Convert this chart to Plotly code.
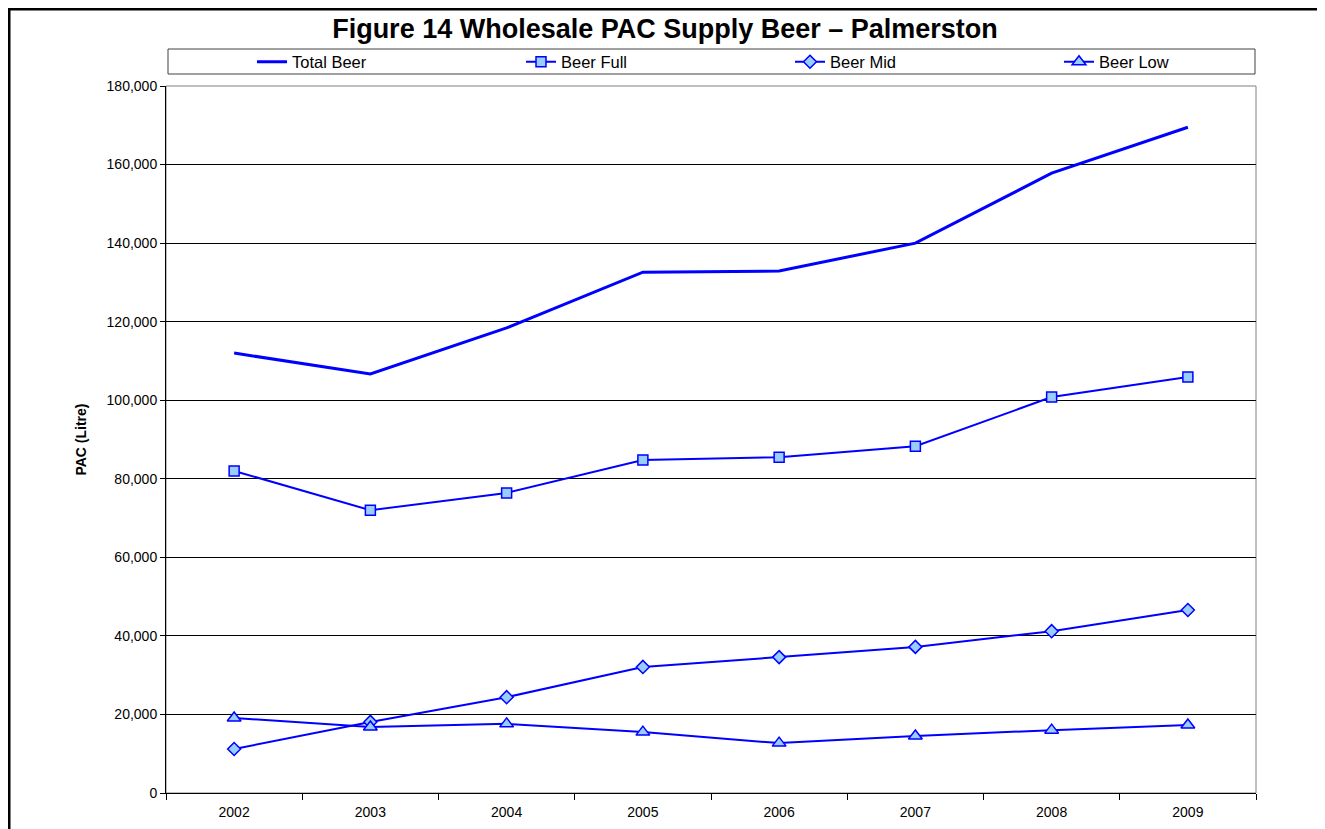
import plotly.graph_objects as go

years = ["2002", "2003", "2004", "2005", "2006", "2007", "2008", "2009"]
total_beer = [112000, 106700, 118400, 132600, 132900, 140000, 157800, 169500]
beer_full = [82000, 72000, 76400, 84800, 85500, 88300, 100800, 105900]
beer_mid = [11200, 18100, 24400, 32100, 34600, 37200, 41200, 46600]
beer_low = [19100, 16800, 17600, 15500, 12700, 14500, 16000, 17300]

BLUE = "#0000FF"
FILL = "#99CCFF"

# The page has an 8px body margin; work in a figure shifted by that.
OFF = 8
W, H = 1325 - OFF, 829 - OFF
PL, PR, PT, PB = 166 - OFF, 1256 - OFF, 86 - OFF, 793 - OFF
PW, PH = PR - PL, PB - PT


def px(x):
    return (x - OFF - PL) / PW


def py(y):
    return (PB - (y - OFF)) / PH


fig = go.Figure()
fig.add_trace(go.Scatter(x=years, y=total_beer, name="Total Beer", mode="lines",
                         line=dict(color=BLUE, width=3)))
fig.add_trace(go.Scatter(x=years, y=beer_full, name="Beer Full", mode="lines+markers",
                         line=dict(color=BLUE, width=2),
                         marker=dict(symbol="square", size=10, color=FILL, line=dict(color=BLUE, width=1.5))))
fig.add_trace(go.Scatter(x=years, y=beer_mid, name="Beer Mid", mode="lines+markers",
                         line=dict(color=BLUE, width=2),
                         marker=dict(symbol="diamond", size=10, color=FILL, line=dict(color=BLUE, width=1.5))))
fig.add_trace(go.Scatter(x=years, y=beer_low, name="Beer Low", mode="lines+markers",
                         line=dict(color=BLUE, width=2),
                         marker=dict(symbol="triangle-up", size=12, color=FILL, line=dict(color=BLUE, width=1.5))))

fig.update_layout(
    width=W, height=H,
    margin=dict(l=PL, r=W - PR, t=PT, b=H - PB, autoexpand=False),
    paper_bgcolor="white", plot_bgcolor="white",
    font=dict(family="Liberation Sans, Arial, sans-serif", color="black", size=14),
    title=dict(text="<b>Figure 14 Wholesale PAC Supply Beer \u2013 Palmerston</b>",
               x=(665 - OFF) / W, xanchor="center", y=1 - (29 - OFF) / H, yanchor="middle",
               font=dict(size=27, color="black")),
    showlegend=True,
    legend=dict(orientation="h", x=px(252), xanchor="left",
                y=py(62), yanchor="middle",
                font=dict(size=16.5), bgcolor="rgba(0,0,0,0)",
                entrywidth=224, entrywidthmode="pixels",
                itemwidth=30, tracegroupgap=0),
    xaxis=dict(type="category", tickson="boundaries", ticks="outside", ticklen=6,
               tickcolor="black", showline=True, linecolor="black", linewidth=1,
               showgrid=False, range=[-0.5, 7.5], tickfont=dict(size=14),
               ticklabelstandoff=6),
    yaxis=dict(range=[0, 180000], dtick=20000, tickformat=",", ticks="outside", ticklen=5,
               tickcolor="black", showline=True, linecolor="black", linewidth=1,
               showgrid=True, gridcolor="black", gridwidth=1, zeroline=False,
               tickfont=dict(size=14),
               title=dict(text="<b>PAC (Litre)</b>", font=dict(size=14), standoff=16)),
    shapes=[
        dict(type="rect", xref="paper", yref="paper", x0=0, x1=1, y0=0, y1=1,
             line=dict(color="#808080", width=1), layer="below"),
        dict(type="rect", xref="paper", yref="paper",
             x0=px(168), x1=px(1255), y0=py(74), y1=py(49),
             line=dict(color="#404040", width=1)),
        dict(type="rect", xref="paper", yref="paper",
             x0=px(9), x1=px(1321), y0=-0.2, y1=py(9),
             line=dict(color="black", width=3)),
    ],
)

fig.write_html("out.html")
